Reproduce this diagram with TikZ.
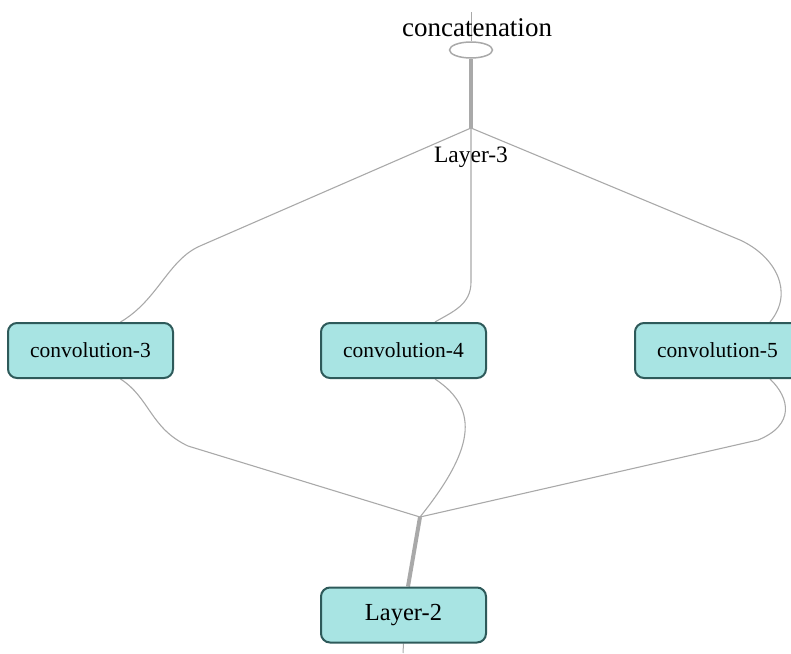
\documentclass[tikz,border=0pt]{standalone}
\usepackage{fontspec}
\setmainfont{Liberation Serif}
\usetikzlibrary{calc,shapes.geometric,backgrounds}
\definecolor{boxfill}{HTML}{A8E4E3}
\definecolor{boxdraw}{HTML}{2E5A5A}
\definecolor{edgecol}{HTML}{A9A9A9}
\tikzset{
  conv/.style={draw=boxdraw, fill=boxfill, line width=2pt, rounded corners=9pt,
    minimum width=165pt, minimum height=55pt, inner sep=0pt,
    font=\fontsize{21.5}{24}\selectfont},
  edge/.style={draw=edgecol, line width=1.1pt},
  thick edge/.style={draw=edgecol, line width=4pt},
  lbl/.style={inner sep=0pt, font=\fontsize{27}{30}\selectfont},
}
\begin{document}
\begin{tikzpicture}[x=1pt,y=-1pt]
\useasboundingbox (0,0) rectangle (791,653);
\coordinate (j3) at (471,128);
\coordinate (j2) at (420,517);
\coordinate (top) at (471,12);
\coordinate (bot) at (403,653);
\node[draw=edgecol, line width=1.5pt, ellipse, minimum width=43pt, minimum height=16pt, inner sep=0pt] (cat) at (471,50) {};
\node[conv] (c3) at (90.5,350.5) {convolution-3};
\node[conv] (c4) at (403.5,350.5) {convolution-4};
\node[conv] (c5) at (717.5,350.5) {convolution-5};
\node[conv, font=\fontsize{24.5}{27}\selectfont] (l2) at (403.5,615) {Layer-2};
\node[lbl] (catl) at (477,28) {concatenation};
\node[lbl, font=\fontsize{23.5}{26}\selectfont] (l3) at (471,157) {Layer-3};
\begin{scope}[on background layer]
\draw[edge, line width=1pt] (top) -- (cat.north);
\draw[thick edge] (cat.south) -- (j3);
\draw[edge] (j3) -- (200,246) .. controls (168,260) and (158,300) .. ($(c3.north)+(30,0)$);
\draw[edge] (j3) -- (471,282) .. controls (471,305) and (452,312) .. ($(c4.north)+(31.5,0)$);
\draw[edge] (j3) -- (740,240) .. controls (775,256) and (795,292) .. ($(c5.north)+(52.5,0)$);
\draw[edge] ($(c3.south)+(30,0)$) .. controls (150,398) and (150,428) .. (188,446) -- (j2);
\draw[edge] ($(c4.south)+(31.5,0)$) .. controls (482,410) and (472,452) .. (j2);
\draw[edge] ($(c5.south)+(52.5,0)$) .. controls (790,398) and (795,425) .. (758,440) -- (j2);
\draw[thick edge] (j2) -- ($(l2.north)+(4.5,0)$);
\draw[edge, line width=1pt] (l2.south) -- (bot);
\end{scope}
\end{tikzpicture}
\end{document}
